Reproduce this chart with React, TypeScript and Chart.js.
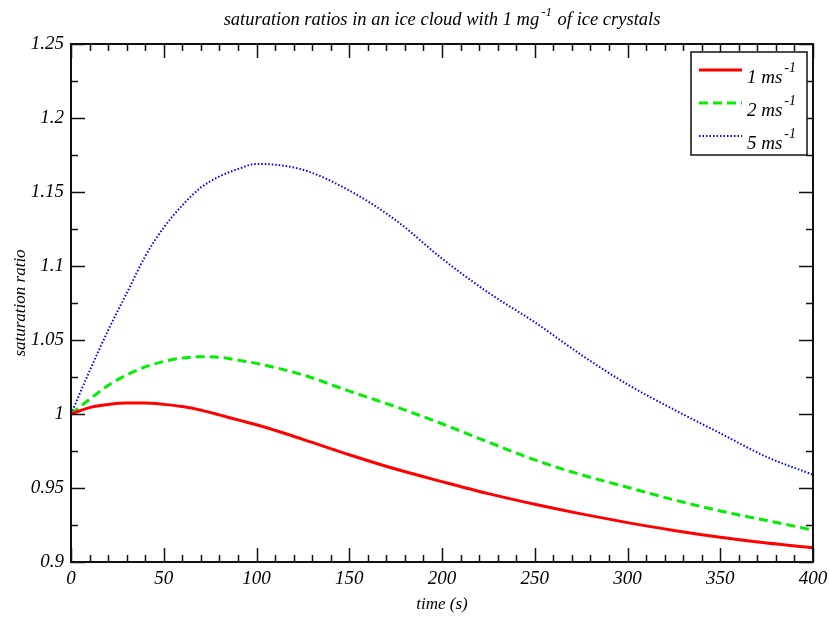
import React, { useEffect, useRef } from 'react';
import { Chart, registerables } from 'chart.js';

Chart.register(...registerables);

// ---- data ----
const times = [0, 10, 20, 30, 40, 50, 60, 70, 80, 90, 100, 125, 150, 175, 200, 225, 250, 275, 300, 325, 350, 375, 400];
const ratio1 = [1.0, 1.0043, 1.0064, 1.0074, 1.0074, 1.0065, 1.005, 1.0026, 0.9994, 0.996, 0.9927, 0.9829, 0.9725, 0.9628, 0.9543, 0.9462, 0.939, 0.9325, 0.9266, 0.9213, 0.9167, 0.9128, 0.9097];
const ratio2 = [1.0, 1.0099, 1.0193, 1.0263, 1.0318, 1.0355, 1.0378, 1.0387, 1.0383, 1.0364, 1.0342, 1.0264, 1.0155, 1.0049, 0.9934, 0.981, 0.969, 0.959, 0.9505, 0.942, 0.9345, 0.928, 0.9216];
const ratio5 = [1.0, 1.029, 1.0565, 1.0815, 1.1066, 1.126, 1.141, 1.153, 1.1605, 1.1655, 1.169, 1.165, 1.151, 1.131, 1.105, 1.082, 1.062, 1.04, 1.02, 1.003, 0.987, 0.971, 0.959];

const seriesNames = ['1 ms', '2 ms', '5 ms'];
const unitSup = '-1';
const seriesColors = ['#ff0000', '#00ee00', '#0000ff'];

const xTickLabels = ['0', '50', '100', '150', '200', '250', '300', '350', '400'];
const yTickLabels = ['0.9', '0.95', '1', '1.05', '1.1', '1.15', '1.2', '1.25'];

const titleMain = 'saturation ratios in an ice cloud with 1 mg';
const titleSup = '-1';
const titleTail = ' of ice crystals';
const xTitle = 'time (s)';
const yTitle = 'saturation ratio';

const X_MIN = 0, X_MAX = 400, X_MAJOR = 50, X_MINOR = 10;
const Y_MIN = 0.9, Y_MAX = 1.25, Y_MAJOR = 0.05, Y_MINOR = 0.025;

const FONT = '"Liberation Serif", "DejaVu Serif", serif';

function toXY(vals: number[]) {
  return times.map((t, i) => ({ x: t, y: vals[i] }));
}

const decorPlugin = {
  id: 'decor',
  afterDraw(chart: any) {
    const ctx: CanvasRenderingContext2D = chart.ctx;
    const { left, right, top, bottom } = chart.chartArea;
    const xs = chart.scales.x;
    const ys = chart.scales.y;
    ctx.save();
    // ticks
    ctx.strokeStyle = '#111';
    ctx.lineWidth = 1.5;
    ctx.beginPath();
    const nx = Math.round((X_MAX - X_MIN) / X_MINOR);
    const xr = Math.round(X_MAJOR / X_MINOR);
    for (let i = 0; i <= nx; i++) {
      const px = Math.round(xs.getPixelForValue(X_MIN + i * X_MINOR)) + 0.5;
      const len = i % xr === 0 ? 14 : 7;
      ctx.moveTo(px, bottom); ctx.lineTo(px, bottom - len);
      ctx.moveTo(px, top); ctx.lineTo(px, top + len);
    }
    const ny = Math.round((Y_MAX - Y_MIN) / Y_MINOR);
    const yr = Math.round(Y_MAJOR / Y_MINOR);
    for (let i = 0; i <= ny; i++) {
      const py = Math.round(ys.getPixelForValue(Y_MIN + i * Y_MINOR)) + 0.5;
      const len = i % yr === 0 ? 14 : 7;
      ctx.moveTo(left, py); ctx.lineTo(left + len, py);
      ctx.moveTo(right, py); ctx.lineTo(right - len, py);
    }
    ctx.stroke();
    // frame
    ctx.lineWidth = 2;
    ctx.strokeStyle = '#111';
    ctx.strokeRect(left, top, right - left, bottom - top);

    // title with superscript
    const tFont = 'italic 18.5px ' + FONT;
    const sFont = 'italic 13px ' + FONT;
    ctx.fillStyle = '#000';
    ctx.textBaseline = 'alphabetic';
    ctx.textAlign = 'left';
    ctx.font = tFont;
    const w1 = ctx.measureText(titleMain).width;
    const w3 = ctx.measureText(titleTail).width;
    ctx.font = sFont;
    const w2 = ctx.measureText(titleSup).width + 3;
    const total = w1 + w2 + w3;
    const tx = (left + right) / 2 - total / 2;
    const ty = 25;
    ctx.font = tFont;
    ctx.fillText(titleMain, tx, ty);
    ctx.font = sFont;
    ctx.fillText(titleSup, tx + w1 + 2, ty - 9);
    ctx.font = tFont;
    ctx.fillText(titleTail, tx + w1 + w2, ty);

    // legend
    const bx = right - 122, by = top + 8, bw = 116, bh = 103;
    ctx.fillStyle = '#fff';
    ctx.fillRect(bx, by, bw, bh);
    ctx.lineWidth = 1.5;
    ctx.strokeStyle = '#111';
    ctx.strokeRect(bx, by, bw, bh);
    const ds = chart.data.datasets;
    for (let i = 0; i < ds.length; i++) {
      const ry = by + 18 + i * 33;
      ctx.beginPath();
      ctx.strokeStyle = ds[i].borderColor;
      ctx.lineWidth = ds[i].borderWidth;
      ctx.setLineDash(ds[i].borderDash || []);
      ctx.moveTo(bx + 8, ry);
      ctx.lineTo(bx + 51, ry);
      ctx.stroke();
      ctx.setLineDash([]);
      ctx.fillStyle = '#000';
      ctx.font = 'italic 19px ' + FONT;
      const lw = ctx.measureText(seriesNames[i]).width;
      ctx.fillText(seriesNames[i], bx + 56, ry + 13);
      ctx.font = 'italic 14px ' + FONT;
      ctx.fillText(unitSup, bx + 56 + lw + 2, ry + 2);
    }
    ctx.restore();
  },
};

export default function App() {
  const ref = useRef<HTMLCanvasElement | null>(null);
  useEffect(() => {
    if (!ref.current) return;
    const tickFont = { family: FONT, size: 19, style: 'italic' as const };
    const chart = new Chart(ref.current, {
      type: 'line',
      data: {
        datasets: [
          { label: seriesNames[0] + unitSup, data: toXY(ratio1), borderColor: seriesColors[0], borderWidth: 3, pointRadius: 0, fill: false, cubicInterpolationMode: 'monotone' },
          { label: seriesNames[1] + unitSup, data: toXY(ratio2), borderColor: seriesColors[1], borderWidth: 3, borderDash: [9, 5], pointRadius: 0, fill: false, cubicInterpolationMode: 'monotone' },
          { label: seriesNames[2] + unitSup, data: toXY(ratio5), borderColor: seriesColors[2], borderWidth: 2, borderDash: [1.5, 2], pointRadius: 0, fill: false, cubicInterpolationMode: 'monotone' },
        ] as any,
      },
      options: {
        responsive: false,
        animation: false,
        layout: { padding: { top: 44, right: 16, left: 0, bottom: 0 } },
        plugins: { legend: { display: false }, title: { display: false }, tooltip: { enabled: false } },
        scales: {
          x: {
            type: 'linear',
            min: X_MIN,
            max: X_MAX,
            grid: { display: false, drawTicks: false },
            border: { display: false },
            ticks: {
              stepSize: X_MAJOR,
              color: '#000',
              font: tickFont,
              padding: 6,
              maxRotation: 0,
              callback: (v: any) => {
                const idx = Math.round((Number(v) - X_MIN) / X_MAJOR);
                return xTickLabels[idx] ?? '';
              },
            },
            title: { display: true, text: xTitle, color: '#000', font: { family: FONT, size: 17, style: 'italic' }, padding: { top: 0, bottom: 3 } },
            afterFit: (s: any) => { s.height = 56; s.paddingLeft = 0; s.paddingRight = 0; },
          },
          y: {
            type: 'linear',
            min: Y_MIN,
            max: Y_MAX,
            grid: { display: false, drawTicks: false },
            border: { display: false },
            ticks: {
              stepSize: Y_MAJOR,
              color: '#000',
              font: tickFont,
              padding: 7,
              callback: (v: any) => {
                const idx = Math.round((Number(v) - Y_MIN) / Y_MAJOR);
                return yTickLabels[idx] ?? '';
              },
            },
            title: { display: true, text: yTitle, color: '#000', font: { family: FONT, size: 17, style: 'italic' }, padding: { top: 10, bottom: 0 } },
            afterFit: (s: any) => { s.width = 71; s.paddingTop = 0; s.paddingBottom = 0; },
          },
        },
      } as any,
      plugins: [decorPlugin],
    });
    return () => chart.destroy();
  }, []);
  return (
    <div style={{ position: 'fixed', left: 0, top: 0, width: 829, height: 618, background: '#fff' }}>
      <canvas ref={ref} width={829} height={618} style={{ display: 'block' }} />
    </div>
  );
}
